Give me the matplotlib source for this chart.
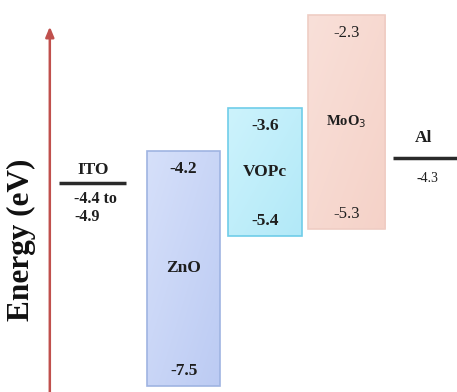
import matplotlib
matplotlib.use("Agg")
import numpy as np
import matplotlib.pyplot as plt
from matplotlib.patches import Rectangle
from matplotlib.colors import LinearSegmentedColormap

# Energy levels (eV)
box_names = ["ZnO", "VOPc", "MoO$_3$"]
box_top = [-4.2, -3.6, -2.3]
box_bottom = [-7.5, -5.4, -5.3]
ito_range = [-4.4, -4.9]
al_level = -4.3

# layout / style
box_x = [1.07, 2.03, 2.99]
box_w = [0.86, 0.87, 0.91]
box_light = ["#d6e0fa", "#cdf3fc", "#f9e0d9"]
box_dark = ["#bccbf3", "#b2e9f8", "#f5d2c8"]
box_edge = ["#9fb4e2", "#6fcde9", "#efcdc4"]
ito_x, ito_w = 0.0, 0.79
al_x, al_w = 4.0, 0.92
ink = "#1e1e1e"

plt.rcParams["font.family"] = ["Liberation Serif", "DejaVu Serif"]

fig = plt.figure(figsize=(4.57, 3.92), dpi=100)
ax = fig.add_axes([0, 0, 1, 1])
ax.set_xlim(-1.097, 4.295)
ax.set_ylim(-7.584, -2.09)
ax.axis("off")

fs = 12.5
grad = np.add.outer(np.linspace(0, 1, 64), np.linspace(0, 1, 64)) / 2
for name, top, bot, x, w, c0, c1, ec in zip(box_names, box_top, box_bottom, box_x,
                                            box_w, box_light, box_dark, box_edge):
    rect = Rectangle((x - w / 2, bot), w, top - bot, facecolor="none",
                     edgecolor=ec, linewidth=1.2, zorder=3)
    ax.add_patch(rect)
    cmap = LinearSegmentedColormap.from_list(name, [c0, c1])
    im = ax.imshow(grad, cmap=cmap, extent=(x - w / 2, x + w / 2, bot, top),
                   origin="upper", aspect="auto", zorder=2, interpolation="bilinear")
    im.set_clip_path(rect)
    light = name.startswith("MoO")
    wt = "normal" if light else "bold"
    ax.annotate(f"{top:.1f}", (x, top), xytext=(0, -13), textcoords="offset points",
                ha="center", va="center", fontsize=fs - (0.5 if light else 0),
                fontweight=wt, color=ink, zorder=4)
    ax.annotate(f"{bot:.1f}", (x, bot), xytext=(0, 11), textcoords="offset points",
                ha="center", va="center", fontsize=fs - (0.5 if light else 0),
                fontweight=wt, color=ink, zorder=4)
    ax.text(x, (top + bot) / 2, name, ha="center", va="center",
            fontsize=fs - (2 if light else 0), fontweight="bold", color=ink, zorder=4)

# ITO electrode (range drawn at its midpoint)
ito_level = sum(ito_range) / len(ito_range)
ax.plot([ito_x - ito_w / 2, ito_x + ito_w / 2], [ito_level, ito_level],
        color="#2a2a2a", lw=2.5, solid_capstyle="butt")
ax.annotate("ITO", (ito_x, ito_level), xytext=(0, 9), textcoords="offset points",
            ha="center", va="center", fontsize=fs, fontweight="bold", color=ink)
ax.annotate(f"{ito_range[0]:.1f} to\n{ito_range[1]:.1f}",
            (ito_x - ito_w / 2 + 0.17, ito_level),
            xytext=(0, -6), textcoords="offset points", ha="left", va="top",
            fontsize=fs - 1, fontweight="bold", color=ink, linespacing=1.15)

# Al electrode
ax.plot([al_x - al_w / 2, al_x + al_w / 2], [al_level, al_level],
        color="#2a2a2a", lw=2.5, solid_capstyle="butt")
ax.annotate("Al", (al_x - 0.1, al_level), xytext=(0, 14), textcoords="offset points",
            ha="center", va="center", fontsize=fs, fontweight="bold", color=ink)
ax.annotate(f"{al_level:.1f}", (al_x - 0.05, al_level), xytext=(0, -15),
            textcoords="offset points", ha="center", va="center",
            fontsize=fs - 2.5, color=ink)

# energy axis arrow
ax.annotate("", xy=(0.109, 0.932), xytext=(0.109, -0.01), xycoords="axes fraction",
            textcoords="axes fraction",
            arrowprops=dict(arrowstyle="-|>,head_length=0.6,head_width=0.25",
                            color="#c0504d", lw=1.8, shrinkA=0, shrinkB=0))
ax.text(0.048, 0.388, "Energy (eV)", transform=ax.transAxes, rotation=90,
        ha="center", va="center", fontsize=22.5, fontweight="bold", color="#111111")

fig.savefig("out.png", dpi=100)
